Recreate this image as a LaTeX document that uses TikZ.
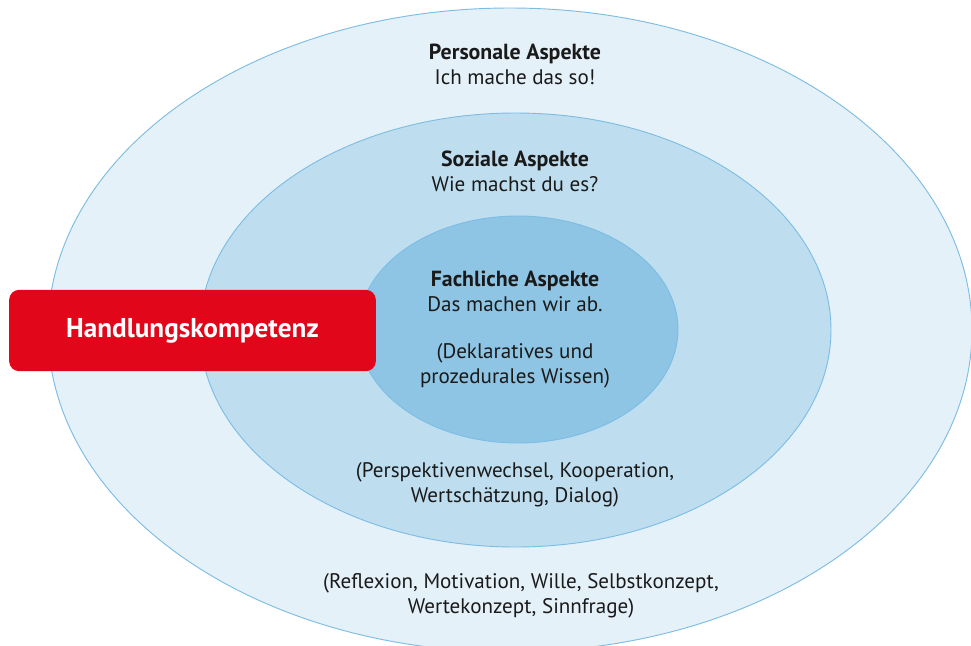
\documentclass[tikz,border=0pt]{standalone}
\usepackage{fontspec}
\setmainfont{PT Sans}
\usepackage{tikz}

\definecolor{ringA}{HTML}{E5F1F9}
\definecolor{ringB}{HTML}{BEDEF0}
\definecolor{ringC}{HTML}{8EC5E4}
\definecolor{ringline}{HTML}{7DBDE4}
\definecolor{hkred}{HTML}{E2061B}
\definecolor{txt}{HTML}{1A1A1A}

\begin{document}
\begin{tikzpicture}[x=0.75pt, y=-0.75pt,
    ring/.style={draw=ringline, line width=0.7pt},
    label/.style={align=center, text=txt, font=\fontsize{15.8}{18.8}\selectfont, inner sep=0pt},
    hkbox/.style={fill=hkred, rounded corners=7.5pt, minimum width=275pt, minimum height=61pt,
        text=white, font=\fontsize{20.4}{24}\selectfont\bfseries, inner sep=0pt}]
    \clip (0,0) rectangle (971,646);
    \fill[white] (0,0) rectangle (971,646);

    % rings
    \filldraw[ring, fill=ringA] (510,330) ellipse [x radius=462, y radius=322];
    \filldraw[ring, fill=ringB] (515.5,330) ellipse [x radius=315.5, y radius=217];
    \filldraw[ring, fill=ringC] (518,329.5) ellipse [x radius=160, y radius=113.5];

    % texts
    \node[label] (personal) at (515,64.5) {{\fontsize{16.4}{18.8}\selectfont\bfseries Personale Aspekte}\\Ich mache das so!};
    \node[label] (sozial) at (515,171) {{\fontsize{16.4}{18.8}\selectfont\bfseries Soziale Aspekte}\\Wie machst du es?};
    \node[label] (fach) at (515,291) {{\fontsize{16.4}{18.8}\selectfont\bfseries Fachliche Aspekte}\\Das machen wir ab.};
    \node[label] (wissen) at (515,366) {(Deklaratives und\\prozedurales Wissen)};
    \node[label] (sozialdet) at (515,484.5) {(Perspektivenwechsel, Kooperation,\\Wertschätzung, Dialog)};
    \node[label] (personaldet) at (521,595.5) {(Reflexion, Motivation, Wille, Selbstkonzept,\\Wertekonzept, Sinnfrage)};

    \node[hkbox] (hk) at (192.5,330.5) {Handlungskompetenz};
\end{tikzpicture}
\end{document}
